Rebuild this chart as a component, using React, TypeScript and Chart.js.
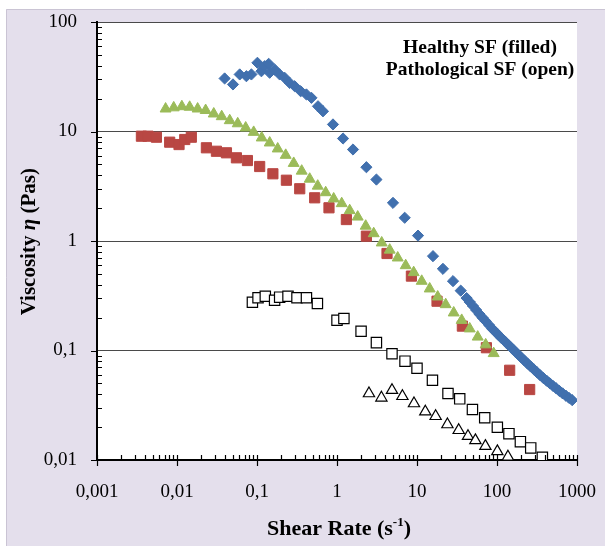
import React, { useEffect, useRef } from 'react';
import { Chart, registerables } from 'chart.js';

Chart.register(...registerables);

// ---- axis ticks ----
const xTickValues = [0.001, 0.01, 0.1, 1, 10, 100, 1000];
const xTickLabels = ['0,001', '0,01', '0,1', '1', '10', '100', '1000'];
const yTickValues = [0.01, 0.1, 1, 10, 100];
const yTickLabels = ['0,01', '0,1', '1', '10', '100'];

// ---- healthy SF (filled) ----
const greenX = [0.0072, 0.0091, 0.0115, 0.0144, 0.0181, 0.0228, 0.0288, 0.0362, 0.0456, 0.0574, 0.0722, 0.0909, 0.1145, 0.1441, 0.1814, 0.2284, 0.2876, 0.362, 0.456, 0.574, 0.722, 0.909, 1.145, 1.441, 1.814, 2.284, 2.876, 3.62, 4.56, 5.74, 7.22, 9.09, 11.45, 14.41, 18.14, 22.84, 28.76, 36.2, 45.6, 57.4, 72.2, 90.9];
const greenY = [16.1, 16.5, 16.9, 16.7, 16.1, 15.6, 14.5, 13.7, 12.6, 11.8, 10.8, 9.85, 8.76, 7.88, 6.95, 6.08, 5.13, 4.36, 3.68, 3.18, 2.77, 2.43, 2.2, 1.9, 1.66, 1.37, 1.17, 0.963, 0.828, 0.702, 0.597, 0.516, 0.43, 0.366, 0.309, 0.263, 0.221, 0.189, 0.158, 0.133, 0.113, 0.094];

const redX = [0.00359, 0.00434, 0.00553, 0.0081, 0.0106, 0.0125, 0.0151, 0.0233, 0.0311, 0.0415, 0.0553, 0.0759, 0.108, 0.158, 0.233, 0.342, 0.526, 0.794, 1.31, 2.33, 4.22, 8.51, 17.8, 36.9, 73.7, 144, 256];
const redY = [9.06, 9.06, 8.87, 7.99, 7.6, 8.45, 8.87, 7.1, 6.6, 6.39, 5.75, 5.43, 4.79, 4.11, 3.59, 3.0, 2.48, 2.01, 1.57, 1.107, 0.769, 0.478, 0.282, 0.167, 0.106, 0.066, 0.044];

const blueX = [0.0394, 0.0501, 0.0608, 0.0737, 0.0851, 0.1012, 0.1135, 0.1248, 0.14, 0.144, 0.1664, 0.192, 0.222, 0.256, 0.296, 0.352, 0.4145, 0.479, 0.579, 0.668, 0.891, 1.19, 1.585, 2.33, 3.11, 5.01, 7.02, 10.3, 15.85, 21.1, 28.2, 35.2, 41.7, 45.7, 50.1, 55.0, 60.3, 66.1, 72.4, 79.4, 87.1, 95.5, 104.7, 114.8, 125.9, 138.0, 151.4, 166.0, 182.0, 199.5, 218.8, 239.9, 263.0, 288.4, 316.2, 346.7, 380.2, 416.9, 457.1, 501.2, 549.5, 602.6, 660.7, 724.4, 794.3, 871.0];
const blueY = [30.5, 26.9, 33.2, 32.0, 33.2, 42.4, 35.5, 39.5, 41.5, 34.4, 36.8, 33.2, 30.9, 27.8, 25.9, 23.3, 21.8, 20.3, 17.0, 15.3, 11.6, 8.63, 6.85, 4.72, 3.64, 2.23, 1.63, 1.12, 0.727, 0.557, 0.43, 0.352, 0.301, 0.277, 0.255, 0.234, 0.215, 0.199, 0.185, 0.171, 0.158, 0.148, 0.138, 0.129, 0.121, 0.113, 0.106, 0.0989, 0.0927, 0.0867, 0.0813, 0.0762, 0.0716, 0.0673, 0.0632, 0.0594, 0.056, 0.053, 0.0502, 0.0475, 0.0451, 0.0427, 0.0406, 0.0387, 0.0369, 0.0352];

// ---- pathological SF (open) ----
const openSqX = [0.0876, 0.103, 0.127, 0.166, 0.192, 0.244, 0.316, 0.415, 0.569, 1.0, 1.22, 2.0, 3.11, 4.87, 7.08, 10.0, 15.6, 24.4, 34.2, 49.3, 70.2, 101, 141, 196, 264, 369];
const openSqY = [0.276, 0.303, 0.313, 0.288, 0.307, 0.313, 0.303, 0.303, 0.269, 0.189, 0.196, 0.15, 0.118, 0.0933, 0.0799, 0.0689, 0.0535, 0.0405, 0.0362, 0.0289, 0.0243, 0.0199, 0.0174, 0.0147, 0.0129, 0.0106];

const openTriX = [2.51, 3.59, 4.87, 6.57, 9.17, 12.7, 17.1, 24.0, 33.2, 43.4, 53.7, 71.6, 101, 137];
const openTriY = [0.0405, 0.037, 0.0434, 0.0382, 0.0328, 0.0276, 0.0251, 0.0211, 0.0187, 0.0165, 0.0151, 0.0134, 0.012, 0.0107];

const legendLines = ['Healthy SF (filled)', 'Pathological SF (open)'];

const SERIF = '"Liberation Serif", "Times New Roman", Times, serif';

const pts = (xs: number[], ys: number[]) => xs.map((x, i) => ({ x, y: ys[i] }));

const framePlugin = {
  id: 'frame',
  beforeDraw(chart: any) {
    const { ctx, width, height, chartArea } = chart;
    ctx.save();
    ctx.fillStyle = '#ffffff';
    ctx.fillRect(0, 0, width, height);
    ctx.fillStyle = '#E4DFEC';
    ctx.fillRect(6, 9, width - 6, height - 9);
    ctx.strokeStyle = '#CAC4D4';
    ctx.lineWidth = 1;
    ctx.beginPath();
    ctx.moveTo(6.5, height);
    ctx.lineTo(6.5, 9.5);
    ctx.lineTo(width, 9.5);
    ctx.stroke();
    ctx.fillStyle = '#ffffff';
    ctx.fillRect(chartArea.left, chartArea.top, chartArea.right - chartArea.left, chartArea.bottom - chartArea.top);
    ctx.restore();
  },
};

const overlayPlugin = {
  id: 'overlay',
  afterDraw(chart: any) {
    const { ctx, chartArea } = chart;
    const xs = chart.scales.x;
    const ys = chart.scales.y;
    const left = chartArea.left;
    const bottom = chartArea.bottom;
    ctx.save();
    ctx.strokeStyle = '#000';
    ctx.lineWidth = 1.2;
    ctx.beginPath();
    // y ticks
    yTickValues.forEach((base, bi) => {
      for (let k = 1; k <= 9; k++) {
        if (k > 1 && bi === yTickValues.length - 1) break;
        const py = Math.round(ys.getPixelForValue(base * k)) + 0.5;
        if (k === 1) {
          ctx.moveTo(left - 6, py);
          ctx.lineTo(left, py);
        } else {
          ctx.moveTo(left, py);
          ctx.lineTo(left + 5, py);
        }
      }
    });
    // x ticks
    xTickValues.forEach((base, bi) => {
      for (let k = 1; k <= 9; k++) {
        if (k > 1 && bi === xTickValues.length - 1) break;
        const px = Math.round(xs.getPixelForValue(base * k)) + 0.5;
        if (k === 1) {
          ctx.moveTo(px, bottom - 5);
          ctx.lineTo(px, bottom + 6);
        } else {
          ctx.moveTo(px, bottom - 5);
          ctx.lineTo(px, bottom);
        }
      }
    });
    ctx.stroke();

    ctx.fillStyle = '#000';
    // y title
    ctx.save();
    ctx.translate(35, 241.7);
    ctx.rotate(-Math.PI / 2);
    ctx.textBaseline = 'alphabetic';
    const yParts = [
      { t: 'Viscosity ', f: `bold 21px ${SERIF}` },
      { t: 'η', f: `italic bold 21px ${SERIF}` },
      { t: ' (Pas)', f: `bold 21px ${SERIF}` },
    ];
    let total = 0;
    yParts.forEach((p) => { ctx.font = p.f; total += ctx.measureText(p.t).width; });
    let cx = -total / 2;
    ctx.textAlign = 'left';
    yParts.forEach((p) => { ctx.font = p.f; ctx.fillText(p.t, cx, 0); cx += ctx.measureText(p.t).width; });
    ctx.restore();

    // x title with superscript
    const xParts = [
      { t: 'Shear Rate (s', f: `bold 22px ${SERIF}`, dy: 0 },
      { t: '-1', f: `bold 13px ${SERIF}`, dy: -9 },
      { t: ')', f: `bold 22px ${SERIF}`, dy: 0 },
    ];
    total = 0;
    xParts.forEach((p) => { ctx.font = p.f; total += ctx.measureText(p.t).width; });
    cx = (chartArea.left + chartArea.right) / 2 + 2 - total / 2;
    ctx.textAlign = 'left';
    ctx.textBaseline = 'alphabetic';
    xParts.forEach((p) => { ctx.font = p.f; ctx.fillText(p.t, cx, 535 + p.dy); cx += ctx.measureText(p.t).width; });

    // annotation
    ctx.font = `bold 19.5px ${SERIF}`;
    ctx.textAlign = 'center';
    ctx.fillText(legendLines[0], 480, 53);
    ctx.fillText(legendLines[1], 480, 75);
    ctx.restore();
  },
};

export default function App() {
  const ref = useRef<HTMLCanvasElement | null>(null);

  useEffect(() => {
    if (!ref.current) return;
    const chart = new Chart(ref.current, {
      type: 'scatter',
      data: {
        datasets: [
          {
            label: 'Healthy triangles',
            data: pts(greenX, greenY),
            pointStyle: 'triangle',
            pointRadius: 6.3,
            backgroundColor: '#9BBB59',
            borderColor: '#9BBB59',
            borderWidth: 1,
            showLine: false,
          },
          {
            label: 'Healthy squares',
            data: pts(redX, redY),
            pointStyle: 'rect',
            pointRadius: 7.2,
            backgroundColor: '#B94743',
            borderColor: '#B94743',
            borderWidth: 1,
            showLine: false,
          },
          {
            label: 'Healthy diamonds',
            data: pts(blueX, blueY),
            pointStyle: 'rectRot',
            pointRadius: 5.6,
            backgroundColor: '#4170AE',
            borderColor: '#4170AE',
            borderWidth: 1,
            showLine: false,
          },
          {
            label: 'Pathological squares',
            data: pts(openSqX, openSqY),
            pointStyle: 'rect',
            pointRadius: 7.3,
            backgroundColor: '#ffffff',
            borderColor: '#000000',
            borderWidth: 1.2,
            showLine: false,
          },
          {
            label: 'Pathological triangles',
            data: pts(openTriX, openTriY),
            pointStyle: 'triangle',
            pointRadius: 6.5,
            backgroundColor: '#ffffff',
            borderColor: '#000000',
            borderWidth: 1.2,
            showLine: false,
          },
        ],
      },
      options: {
        animation: false,
        responsive: false,
        devicePixelRatio: 1,
        layout: { autoPadding: false, padding: { left: 0, right: 28, top: 22, bottom: 0 } },
        plugins: {
          legend: { display: false },
          tooltip: { enabled: false },
        },
        scales: {
          x: {
            type: 'logarithmic',
            position: 'bottom',
            min: 0.001,
            max: 1000,
            afterBuildTicks: (s: any) => { s.ticks = xTickValues.map((v) => ({ value: v })); },
            afterFit: (s: any) => { s.height = 86; s.paddingLeft = 0; s.paddingRight = 0; },
            ticks: {
              autoSkip: false,
              maxRotation: 0,
              minRotation: 0,
              padding: 21,
              color: '#000',
              font: { family: SERIF, size: 19 },
              callback: (_v: any, i: number) => xTickLabels[i],
            },
            grid: { drawOnChartArea: false, drawTicks: false },
            border: { display: true, color: '#000', width: 2 },
          },
          y: {
            type: 'logarithmic',
            min: 0.01,
            max: 100,
            afterBuildTicks: (s: any) => { s.ticks = yTickValues.map((v) => ({ value: v })); },
            afterFit: (s: any) => { s.width = 97; s.paddingTop = 0; s.paddingBottom = 0; },
            ticks: {
              autoSkip: false,
              padding: 20,
              color: '#000',
              font: { family: SERIF, size: 19 },
              callback: (_v: any, i: number) => yTickLabels[i],
            },
            grid: {
              drawTicks: false,
              lineWidth: 1,
              color: (c: any) => (c.tick && c.tick.value <= yTickValues[0] ? 'rgba(0,0,0,0)' : '#4a4a4a'),
            },
            border: { display: true, color: '#000', width: 2 },
          },
        },
      } as any,
      plugins: [framePlugin, overlayPlugin],
    });
    return () => chart.destroy();
  }, []);

  return (
    <div style={{ position: 'fixed', left: 0, top: 0, width: 605, height: 546 }}>
      <canvas ref={ref} width={605} height={546} style={{ display: 'block', width: 605, height: 546 }} />
    </div>
  );
}
